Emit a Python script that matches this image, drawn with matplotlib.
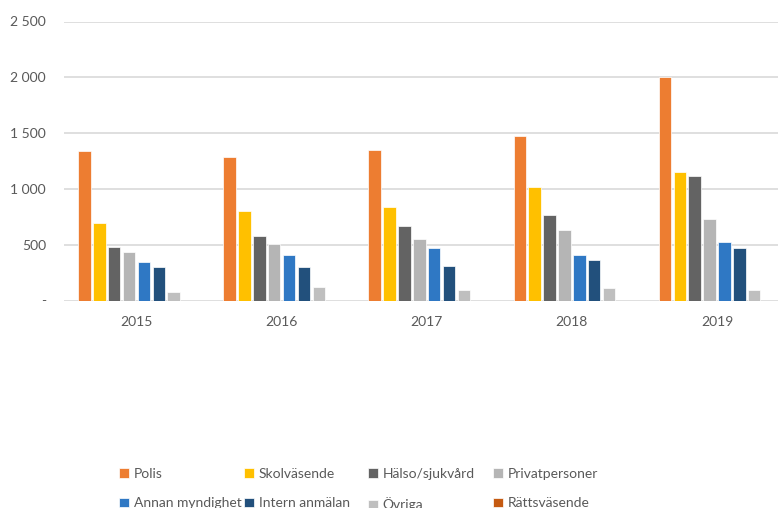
import matplotlib.pyplot as plt
import numpy as np

# counts per reporter category and year
years = ['2015', '2016', '2017', '2018', '2019']
series = ['Polis', 'Skolväsende', 'Hälso/sjukvård', 'Privatpersoner',
          'Annan myndighet', 'Intern anmälan', 'Övriga', 'Rättsväsende']
polis = [1340, 1283, 1351, 1471, 2000]
skola = [694, 802, 838, 1017, 1148]
halso = [479, 575, 670, 766, 1113]
privat = [432, 503, 551, 634, 730]
annan = [348, 408, 468, 408, 527]
intern = [300, 300, 312, 360, 468]
ovriga = [73, 121, 97, 109, 97]
ratts = [0, 0, 0, 0, 0]
yticks = [0, 500, 1000, 1500, 2000, 2500]
ytick_labels = ['-', '500', '1 000', '1 500', '2 000', '2 500']

colors = ['#ED7D31', '#FFC000', '#636363', '#B5B5B5',
          '#2F78C4', '#22507C', '#BFBFBF', '#C55A11']
data = [polis, skola, halso, privat, annan, intern, ovriga, ratts]

plt.rcParams['font.family'] = ['Lato', 'DejaVu Sans']
txt = '#595959'

fig = plt.figure(figsize=(7.78, 5.08), dpi=100)
ax = fig.add_axes([64/778, 1 - 300.5/508, 725.5/778, 279/508])

x = np.arange(len(years))
n = len(series)
group = 0.82
pitch = group / n
handles = []
for i, (name, vals, c) in enumerate(zip(series, data, colors)):
    b = ax.bar(x - group/2 + pitch*(i + 0.5), vals, width=pitch*0.84, color=c,
               edgecolor='white', linewidth=0.5, label=name, zorder=3)
    handles.append(b)

ax.set_xlim(-0.5, len(years) - 0.5)
ax.set_ylim(0, 2500)
ax.set_yticks(yticks)
ax.set_yticklabels(ytick_labels)
ax.set_xticks(x)
ax.set_xticklabels(years)
ax.grid(axis='y', color='#D9D9D9', linewidth=1.2, zorder=0)
for s in ax.spines.values():
    s.set_visible(False)
ax.tick_params(length=0, colors=txt, labelsize=10)
ax.tick_params(axis='y', pad=13)
ax.tick_params(axis='x', pad=11)

# legend: 4 columns of 2 entries, placed like the original
col_x = [108, 233, 357, 482]
for c in range(4):
    idx = [c, c + 4]
    fig.legend([handles[k] for k in idx], [series[k] for k in idx],
               loc='upper left', bbox_to_anchor=(col_x[c]/778, 1 - 457/508),
               frameon=False, fontsize=10, labelcolor=txt,
               handlelength=0.7, handleheight=0.7, handletextpad=0.35,
               labelspacing=1.25, borderpad=0.3)

fig.savefig('out.png', dpi=100)
